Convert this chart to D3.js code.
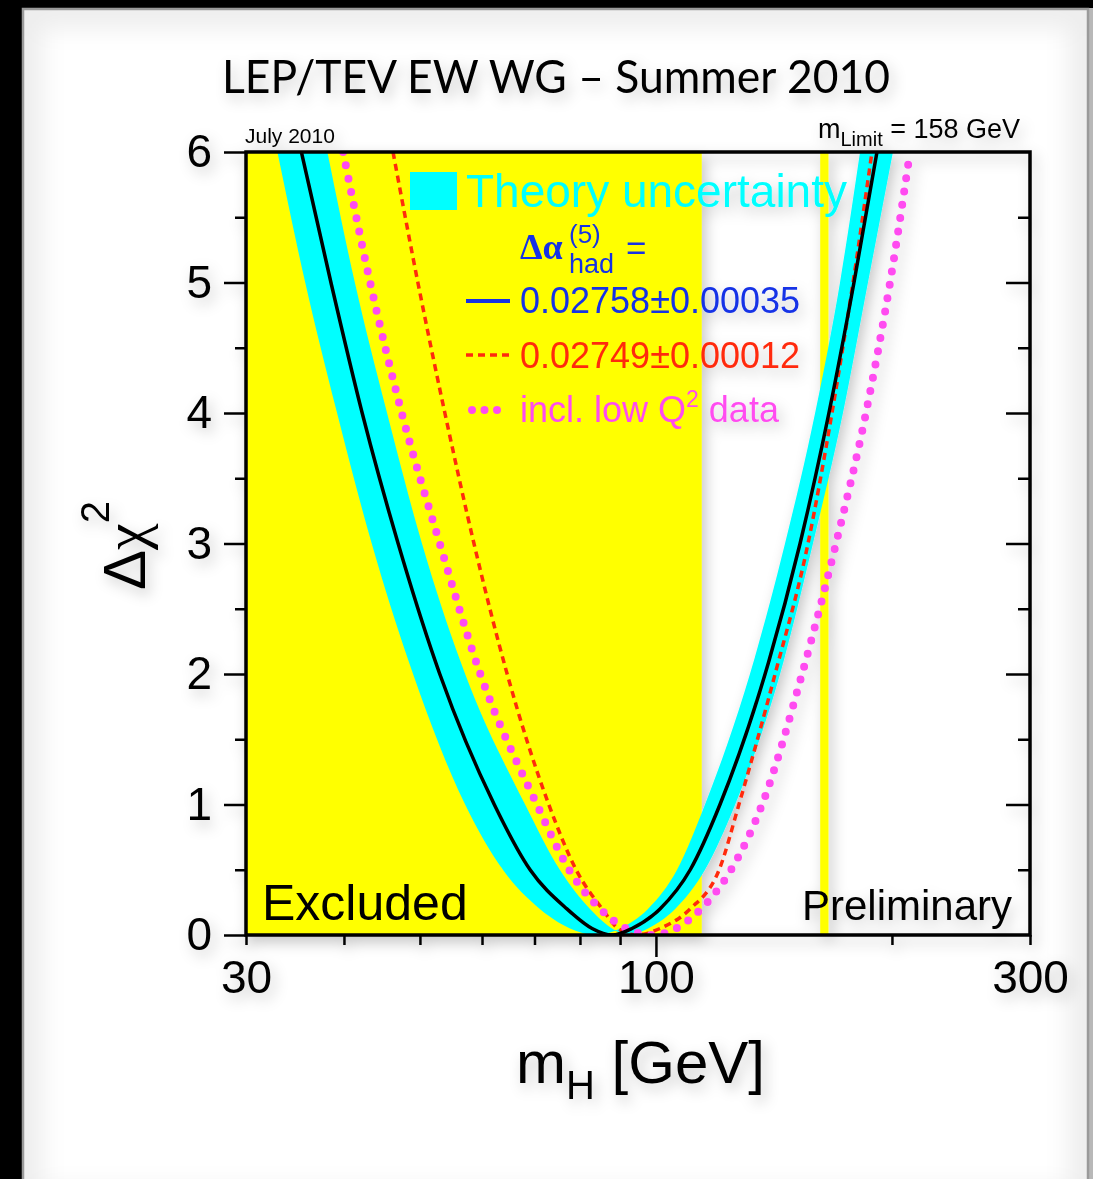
<!DOCTYPE html>
<html><head><meta charset="utf-8">
<script src="https://cdn.jsdelivr.net/npm/d3@7"></script>
<style>
html,body{margin:0;padding:0;background:#000;}
svg{display:block;}
</style></head><body>
<script>
// Electroweak fit: delta chi-square versus Higgs mass, LEP/TEV EW WG summer 2010

// axis ticks
const yTicks = [0, 1, 2, 3, 4, 5, 6];
const yMinorTicks = [0.5, 1.5, 2.5, 3.5, 4.5, 5.5];
const xTickLabels = [30, 100, 300];
const xMajorTicks = [100];
const xMinorTicks = [30, 40, 50, 60, 70, 80, 90, 200, 300];

// excluded mass ranges (GeV)
const excludedLEP = [30, 114.4];
const excludedTEV = [162, 166];

// delta chi2 levels along each curve (left branch down, right branch up)
const chi2Levels = [6, 5, 4, 3, 2, 1, 0.5, 0.2, 0.05, 0, 0.05, 0.2, 0.5, 1, 2, 3, 4, 5, 6];
// m_H (GeV) at those levels
const mhCentral  = [35.3, 38.5, 42.2, 46.9, 53.0, 62.2, 69.1, 77.0, 82.9, 87.9, 93.2, 101.2, 110.6, 120.7, 137.8, 152.7, 166.2, 178.9, 191.4];
const mhAlt      = [46.2, 49.7, 53.8, 58.6, 64.6, 73.0, 79.1, 85.4, 89.5, 94.6, 101.2, 110.6, 120.4, 127.6, 141.9, 156.3, 167.7, 178.4, 188.6];
const mhLowQ2    = [39.9, 43.2, 47.4, 53.0, 59.7, 70.5, 77.5, 84.9, 91.6, 98.9, 106.1, 114.2, 124.7, 136.6, 153.6, 169.7, 185.3, 198.9, 210.9];
const mhBandLow  = [32.9, 35.7, 39.2, 43.4, 49.0, 57.1, 63.8, 71.1, 77.7, 83.6, 90.0, 97.7, 106.4, 115.5, 131.8, 146.1, 159.6, 171.7, 182.1];
const mhBandHigh = [38.1, 41.3, 45.4, 50.3, 57.1, 68.1, 75.4, 82.4, 87.9, 92.1, 97.7, 105.8, 115.5, 126.2, 144.0, 158.6, 173.2, 186.4, 200.6];

const legendLabels = ["Theory uncertainty", "0.02758\u00b10.00035", "0.02749\u00b10.00012", "incl. low Q"];

const W = 1093, H = 1179;
const COL = {cyan: "#00ffff", yellow: "#ffff00", blue: "#1433e6", red: "#ff2a0a", magenta: "#ff4cf0"};
const SANS = "'Liberation Sans', Arial, Helvetica, sans-serif";

const svg = d3.select("body").append("svg").attr("width", W).attr("height", H);
const defs = svg.append("defs");

const shade = defs.append("filter").attr("id", "shade")
  .attr("x", -0.2).attr("y", -0.2).attr("width", 1.4).attr("height", 1.4);
shade.append("feGaussianBlur").attr("in", "SourceAlpha").attr("stdDeviation", 7);
shade.append("feOffset").attr("dx", 4).attr("dy", 6).attr("result", "off");
shade.append("feFlood").attr("flood-color", "#000").attr("flood-opacity", 0.22);
shade.append("feComposite").attr("in2", "off").attr("operator", "in");
const mg = shade.append("feMerge");
mg.append("feMergeNode");
mg.append("feMergeNode").attr("in", "SourceGraphic");

const soft = defs.append("filter").attr("id", "soft");
soft.append("feGaussianBlur").attr("stdDeviation", 12);

defs.append("clipPath").attr("id", "panelClip").append("rect")
  .attr("x", 22).attr("y", 8).attr("width", 1067).attr("height", 1200);

const x = d3.scaleLog().domain([30, 300]).range([246, 1030]);
const y = d3.scaleLinear().domain([0, 6]).range([935, 152]);

defs.append("clipPath").attr("id", "plotClip").append("rect")
  .attr("x", 246).attr("y", 152).attr("width", 784).attr("height", 783);

// page panel
svg.append("rect").attr("x", 1089).attr("y", 8).attr("width", 4).attr("height", H).attr("fill", "#b8b8b8");
svg.append("rect").attr("x", 22).attr("y", 8).attr("width", 1067).attr("height", 1200)
  .attr("fill", "#fff");
svg.append("rect").attr("x", 22).attr("y", 8).attr("width", 1067).attr("height", 1200)
  .attr("fill", "none").attr("stroke", "#000").attr("stroke-opacity", 0.07).attr("stroke-width", 40)
  .attr("clip-path", "url(#panelClip)").attr("filter", "url(#soft)");
svg.append("rect").attr("x", 23).attr("y", 9).attr("width", 1065).attr("height", 1200)
  .attr("fill", "none").attr("stroke", "#9a9a9a").attr("stroke-width", 2.5);

const root = svg.append("g").attr("filter", "url(#shade)");

// plot content
const plot = root.append("g").attr("clip-path", "url(#plotClip)");
[excludedLEP, excludedTEV].forEach(r => {
  plot.append("rect").attr("x", x(r[0])).attr("y", y(6)).attr("width", x(r[1]) - x(r[0]))
    .attr("height", y(0) - y(6)).attr("fill", COL.yellow);
});

const pts = mh => mh.map((m, i) => ({m, c: chi2Levels[i]}));
const line = d3.line().x(d => x(d.m)).y(d => y(d.c)).curve(d3.curveMonotoneX);

// theory band: region between the two bounding curves
plot.append("path")
  .attr("d", line(pts(mhBandLow)) + "Z" + line(pts(mhBandHigh)) + "Z")
  .attr("fill", COL.cyan).attr("fill-rule", "evenodd");

plot.append("path").attr("d", line(pts(mhAlt)))
  .attr("fill", "none").attr("stroke", COL.red).attr("stroke-width", 3.5)
  .attr("stroke-dasharray", "7 5");
plot.append("path").attr("d", line(pts(mhLowQ2)))
  .attr("fill", "none").attr("stroke", COL.magenta).attr("stroke-width", 8)
  .attr("stroke-linecap", "round").attr("stroke-dasharray", "0 13.5");
plot.append("path").attr("d", line(pts(mhCentral)))
  .attr("fill", "none").attr("stroke", "#000").attr("stroke-width", 3.5);

// legend
const lg = root.append("g").attr("font-family", SANS);
lg.append("rect").attr("x", 410).attr("y", 172).attr("width", 47).attr("height", 38).attr("fill", COL.cyan);
lg.append("text").attr("x", 466).attr("y", 207).attr("font-size", 46).attr("fill", COL.cyan).text(legendLabels[0]);

const da = lg.append("text").attr("x", 520).attr("y", 259).attr("fill", COL.blue);
da.append("tspan").attr("font-family", "'Liberation Serif', 'DejaVu Serif', serif").attr("font-weight", "bold")
  .attr("font-size", 36).text("\u0394\u03b1");
lg.append("text").attr("x", 569).attr("y", 243).attr("fill", COL.blue).attr("font-size", 26).text("(5)");
lg.append("text").attr("x", 569).attr("y", 273).attr("fill", COL.blue).attr("font-size", 27).text("had");
lg.append("text").attr("x", 626).attr("y", 260).attr("fill", COL.blue).attr("font-size", 35).text("=");

lg.append("line").attr("x1", 466).attr("x2", 510).attr("y1", 301).attr("y2", 301)
  .attr("stroke", COL.blue).attr("stroke-width", 4);
lg.append("text").attr("x", 520).attr("y", 313).attr("font-size", 36).attr("fill", COL.blue).text(legendLabels[1]);

lg.append("line").attr("x1", 466).attr("x2", 510).attr("y1", 355).attr("y2", 355)
  .attr("stroke", COL.red).attr("stroke-width", 3.5).attr("stroke-dasharray", "7 5");
lg.append("text").attr("x", 520).attr("y", 368).attr("font-size", 36).attr("fill", COL.red).text(legendLabels[2]);

lg.append("line").attr("x1", 472).attr("x2", 500).attr("y1", 410).attr("y2", 410)
  .attr("stroke", COL.magenta).attr("stroke-width", 8).attr("stroke-linecap", "round")
  .attr("stroke-dasharray", "0 12.5");
const q = lg.append("text").attr("x", 520).attr("y", 422).attr("font-size", 36).attr("fill", COL.magenta);
q.append("tspan").text(legendLabels[3]);
q.append("tspan").attr("font-size", 23).attr("dy", -15).text("2");
q.append("tspan").attr("dy", 15).text(" data");

// in-plot labels
root.append("text").attr("x", 262).attr("y", 920).attr("font-family", SANS).attr("font-size", 50).text("Excluded");
root.append("text").attr("x", 802).attr("y", 920).attr("font-family", SANS).attr("font-size", 42).text("Preliminary");

// axes
const styleAxis = g => {
  g.select(".domain").remove();
  g.selectAll("line").attr("stroke", "#000").attr("stroke-width", 2.5);
  g.selectAll("text").attr("font-family", SANS).attr("font-size", 46).attr("fill", "#000");
};
root.append("g").attr("transform", "translate(246,0)")
  .call(d3.axisLeft(y).tickValues(yTicks).tickSize(22).tickPadding(12).tickFormat(d3.format("d"))).call(styleAxis);
root.append("g").attr("transform", "translate(246,0)")
  .call(d3.axisLeft(y).tickValues(yMinorTicks).tickSize(11).tickFormat("")).call(styleAxis);
root.append("g").attr("transform", "translate(1030,0)")
  .call(d3.axisLeft(y).tickValues(yTicks.slice(1, 6)).tickSize(24).tickFormat("")).call(styleAxis);
root.append("g").attr("transform", "translate(1030,0)")
  .call(d3.axisLeft(y).tickValues(yMinorTicks).tickSize(12).tickFormat("")).call(styleAxis);
root.append("g").attr("transform", "translate(0,935)")
  .call(d3.axisBottom(x).tickValues(xMajorTicks).tickSize(22).tickFormat("")).call(styleAxis);
root.append("g").attr("transform", "translate(0,935)")
  .call(d3.axisBottom(x).tickValues(xMinorTicks).tickSize(10).tickFormat("")).call(styleAxis);
root.append("g").attr("transform", "translate(0,935)")
  .call(d3.axisBottom(x).tickValues(xTickLabels).tickSize(0).tickPadding(25).tickFormat(d3.format("d"))).call(styleAxis);

root.append("rect").attr("x", 246).attr("y", 152).attr("width", 784).attr("height", 783)
  .attr("fill", "none").attr("stroke", "#000").attr("stroke-width", 3.5);

// titles
root.append("text").attr("x", 222).attr("y", 93).attr("font-family", "Lato, 'Open Sans', sans-serif")
  .attr("font-size", 46).attr("fill", "#000")
  .attr("textLength", 668).attr("lengthAdjust", "spacingAndGlyphs")
  .text("LEP/TEV EW WG \u2013 Summer 2010");
root.append("text").attr("x", 245).attr("y", 143).attr("font-family", SANS).attr("font-size", 21).text("July 2010");
const ml = root.append("text").attr("x", 818).attr("y", 138).attr("font-family", SANS).attr("font-size", 27);
ml.append("tspan").text("m");
ml.append("tspan").attr("font-size", 20).attr("dy", 8).text("Limit");
ml.append("tspan").attr("dy", -8).text(" = 158 GeV");

const xt = root.append("text").attr("x", 516).attr("y", 1083).attr("font-family", SANS).attr("font-size", 60);
xt.append("tspan").text("m");
xt.append("tspan").attr("font-size", 40).attr("dy", 16).text("H");
xt.append("tspan").attr("dy", -16).text(" [GeV]");

const yt = root.append("text").attr("transform", "translate(145,590) rotate(-90)")
  .attr("font-family", SANS).attr("font-size", 60);
yt.append("tspan").text("\u0394");
yt.append("tspan").attr("font-family", "'Liberation Serif', 'DejaVu Serif', serif").text("\u03c7");
yt.append("tspan").attr("font-size", 40).attr("dy", -36).text("2");
</script>
</body></html>
